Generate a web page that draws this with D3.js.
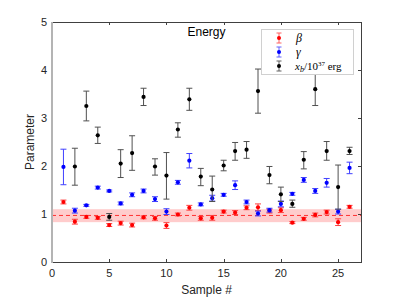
<!DOCTYPE html>
<html><head><meta charset="utf-8">
<script src="https://cdn.jsdelivr.net/npm/d3@7"></script>
<style>body{margin:0;background:#fff}svg{display:block}</style>
</head><body><svg id="c" width="399" height="299"></svg>
<script>
const samples = d3.range(1, 27);
const betaVal = [1.25,0.84,0.94,0.92,0.77,0.81,0.77,0.93,0.91,0.76,0.99,1.13,0.91,0.92,1.05,1.03,1.13,1.14,1.06,1.08,0.82,0.90,0.98,1.04,0.83,1.15];
const betaErr = [0.04,0.05,0.03,0.03,0.03,0.04,0.04,0.03,0.04,0.06,0.03,0.05,0.04,0.05,0.03,0.04,0.04,0.07,0.04,0.05,0.02,0.03,0.04,0.04,0.07,0.03];
const gammaVal = [1.98,1.07,1.18,1.55,1.48,1.22,1.40,1.48,1.31,1.05,1.66,2.11,1.20,1.33,1.40,1.60,1.25,1.01,1.08,1.21,1.42,1.71,1.48,1.65,1.05,1.96];
const gammaErr = [0.37,0.05,0.02,0.03,0.02,0.03,0.04,0.04,0.05,0.06,0.04,0.15,0.03,0.06,0.03,0.09,0.04,0.05,0.04,0.06,0.03,0.05,0.05,0.09,0.05,0.12];
const xbVal = [null,1.99,3.25,2.64,0.94,2.05,2.27,3.44,1.99,1.80,2.76,3.39,1.78,1.51,2.01,2.31,2.34,3.56,1.81,1.41,1.21,2.13,3.60,2.31,1.56,2.31];
const xbLo  = [null,1.60,2.94,2.47,0.87,1.76,1.91,3.26,1.81,1.31,2.60,3.16,1.59,1.26,1.90,2.12,2.16,3.10,1.63,1.26,1.14,1.94,3.26,2.12,1.10,2.24];
const xbHi  = [null,2.37,3.56,2.81,1.01,2.34,2.63,3.62,2.15,2.28,2.90,3.62,1.95,1.79,2.12,2.49,2.51,4.02,1.99,1.56,1.29,2.30,3.96,2.51,2.02,2.39];
const bandMean = 0.97, bandLo = 0.83, bandHi = 1.10;
const xTicks = [0,5,10,15,20,25];
const yTicks = [0,1,2,3,4,5];

const svg = d3.select('#c');
const L=52, R=361, T=22, B=262;
const x = d3.scaleLinear().domain([0,27]).range([L,R]);
const y = d3.scaleLinear().domain([0,5]).range([B,T]);
const font = 'Liberation Sans, Arial, Helvetica, sans-serif';
const tc = '#262626';

// band
svg.append('rect').attr('x',x(0)).attr('width',x(27)-x(0))
  .attr('y',y(bandHi)).attr('height',y(bandLo)-y(bandHi)).attr('fill','#ffcccc');
svg.append('line').attr('x1',x(0)).attr('x2',x(27)).attr('y1',y(bandMean)).attr('y2',y(bandMean))
  .attr('stroke','#ff3030').attr('stroke-width',1).attr('stroke-dasharray','4,3');

function series(vals, lo, hi, col, ecol){
  const g = svg.append('g');
  samples.forEach((s,i)=>{
    if(vals[i]==null) return;
    const xx=x(s), y1=y(hi[i]), y2=y(lo[i]);
    g.append('line').attr('x1',xx).attr('x2',xx).attr('y1',y1).attr('y2',y2).attr('stroke',ecol).attr('stroke-width',1);
    g.append('line').attr('x1',xx-3).attr('x2',xx+3).attr('y1',y1).attr('y2',y1).attr('stroke',ecol).attr('stroke-width',1);
    g.append('line').attr('x1',xx-3).attr('x2',xx+3).attr('y1',y2).attr('y2',y2).attr('stroke',ecol).attr('stroke-width',1);
    g.append('circle').attr('cx',xx).attr('cy',y(vals[i])).attr('r',2.1).attr('fill',col);
  });
}
series(betaVal, betaVal.map((v,i)=>v-betaErr[i]), betaVal.map((v,i)=>v+betaErr[i]), '#ff0000', '#ff4040');
series(gammaVal, gammaVal.map((v,i)=>v-gammaErr[i]), gammaVal.map((v,i)=>v+gammaErr[i]), '#0000ff', '#4040ff');
series(xbVal, xbLo, xbHi, '#000000', '#505050');

// axes box
const ac='#404040';
svg.append('line').attr('x1',L).attr('x2',R).attr('y1',T+0.5).attr('y2',T+0.5).attr('stroke',ac);
svg.append('line').attr('x1',L).attr('x2',R).attr('y1',B+0.5).attr('y2',B+0.5).attr('stroke',ac);
svg.append('line').attr('x1',R+0.5).attr('x2',R+0.5).attr('y1',T).attr('y2',B+1).attr('stroke',ac);
svg.append('line').attr('x1',L).attr('x2',L).attr('y1',T).attr('y2',B+1).attr('stroke','#b4b4b4').attr('stroke-width',2);

xTicks.forEach(t=>{
  if(t===0) return;
  const xx=Math.round(x(t))+0.5;
  svg.append('line').attr('x1',xx).attr('x2',xx).attr('y1',B).attr('y2',B-3).attr('stroke',ac);
  svg.append('line').attr('x1',xx).attr('x2',xx).attr('y1',T).attr('y2',T+3).attr('stroke',ac);
});
yTicks.forEach(t=>{
  const yy=Math.round(y(t))+0.5;
  if(t>0 && t<5) svg.append('line').attr('x1',R).attr('x2',R-3).attr('y1',yy).attr('y2',yy).attr('stroke',ac);
});
svg.append('g').selectAll('text').data(xTicks).join('text')
  .attr('x',d=>x(d)).attr('y',B+15).attr('text-anchor','middle')
  .attr('font-family',font).attr('font-size',11).attr('fill',tc).text(d=>d);
svg.append('g').selectAll('text').data(yTicks).join('text')
  .attr('x',L-5).attr('y',d=>y(d)+4).attr('text-anchor','end')
  .attr('font-family',font).attr('font-size',11).attr('fill',tc).text(d=>d);

svg.append('text').attr('x',(L+R)/2).attr('y',294).attr('text-anchor','middle')
  .attr('font-family',font).attr('font-size',12).attr('fill',tc).text('Sample #');
svg.append('text').attr('transform',`translate(34,${(T+B)/2}) rotate(-90)`).attr('text-anchor','middle')
  .attr('font-family',font).attr('font-size',12).attr('fill',tc).text('Parameter');
svg.append('text').attr('x',(L+R)/2).attr('y',36).attr('text-anchor','middle')
  .attr('font-family',font).attr('font-size',12).attr('fill','#000').text('Energy');

// legend
const lg = svg.append('g');
lg.append('rect').attr('x',261.5).attr('y',29.5).attr('width',92).attr('height',45).attr('fill','#fff').attr('stroke','#d0d0d0');
const legItems = [
  {col:'#ff0000', ecol:'#ff6060', y:38},
  {col:'#0000ff', ecol:'#6060ff', y:52},
  {col:'#000000', ecol:'#606060', y:66}
];
legItems.forEach(it=>{
  const xx=279;
  lg.append('line').attr('x1',xx).attr('x2',xx).attr('y1',it.y-5).attr('y2',it.y+5).attr('stroke',it.ecol);
  lg.append('line').attr('x1',xx-2.5).attr('x2',xx+2.5).attr('y1',it.y-5).attr('y2',it.y-5).attr('stroke',it.ecol);
  lg.append('line').attr('x1',xx-2.5).attr('x2',xx+2.5).attr('y1',it.y+5).attr('y2',it.y+5).attr('stroke',it.ecol);
  lg.append('circle').attr('cx',xx).attr('cy',it.y).attr('r',2).attr('fill',it.col);
});
const serif='Liberation Serif, Times New Roman, serif';
lg.append('text').attr('x',296).attr('y',42).attr('font-family',serif).attr('font-style','italic').attr('font-size',12).text('β');
lg.append('text').attr('x',296).attr('y',56).attr('font-family',serif).attr('font-style','italic').attr('font-size',12).text('γ');
const t3 = lg.append('text').attr('x',295).attr('y',70).attr('font-family',serif).attr('font-size',11);
t3.append('tspan').attr('font-style','italic').text('x');
t3.append('tspan').attr('font-style','italic').attr('font-size',8).attr('dy',2).text('b');
t3.append('tspan').attr('dy',-2).text('/10');
t3.append('tspan').attr('font-size',7).attr('dy',-4).text('37');
t3.append('tspan').attr('dy',4).text(' erg');
</script></body></html>
